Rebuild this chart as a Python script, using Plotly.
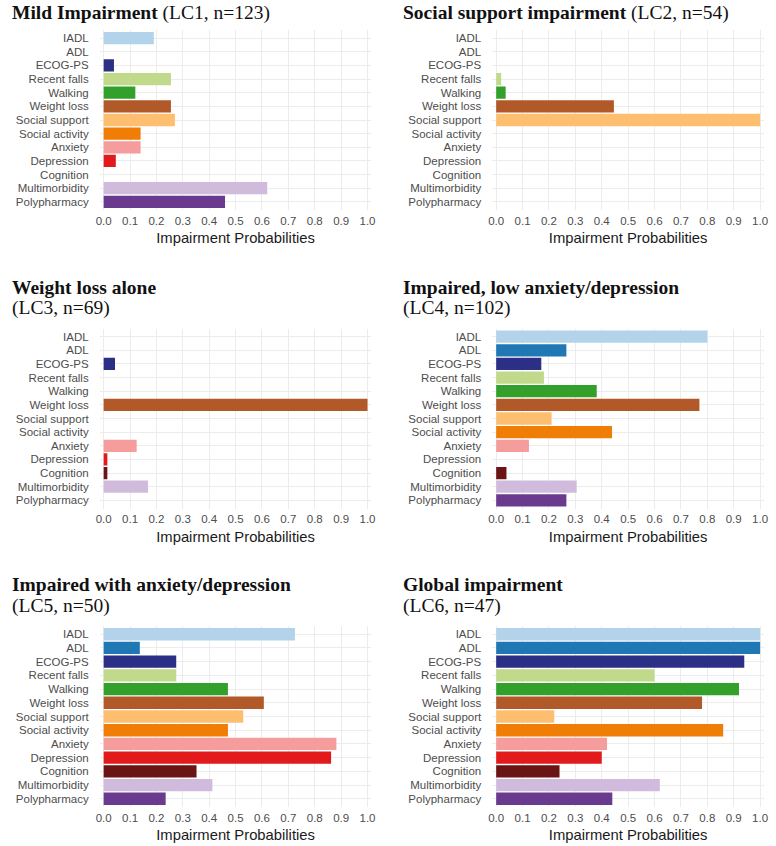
import plotly.graph_objects as go

categories = ["IADL", "ADL", "ECOG-PS", "Recent falls", "Walking", "Weight loss",
              "Social support", "Social activity", "Anxiety", "Depression",
              "Cognition", "Multimorbidity", "Polypharmacy"]

bar_colors = ["#b3d3ea", "#1f78b4", "#2b2f86", "#c1d98a", "#33a02c", "#b15928",
              "#fdbf6f", "#f07d05", "#f59c9c", "#e31a1c", "#6b1414", "#d1bbdc", "#6a3a8f"]

lc1 = [0.19, 0.0, 0.039, 0.255, 0.12, 0.255, 0.27, 0.14, 0.14, 0.046, 0.0, 0.62, 0.46]
lc2 = [0.0, 0.0, 0.0, 0.019, 0.036, 0.446, 1.0, 0.0, 0.0, 0.0, 0.0, 0.0, 0.0]
lc3 = [0.0, 0.0, 0.043, 0.0, 0.0, 1.0, 0.0, 0.0, 0.125, 0.014, 0.014, 0.168, 0.0]
lc4 = [0.80, 0.266, 0.171, 0.181, 0.381, 0.77, 0.21, 0.439, 0.124, 0.0, 0.039, 0.305, 0.266]
lc5 = [0.725, 0.137, 0.275, 0.275, 0.471, 0.607, 0.529, 0.471, 0.882, 0.862, 0.352, 0.412, 0.235]
lc6 = [1.0, 1.0, 0.94, 0.60, 0.92, 0.78, 0.22, 0.86, 0.42, 0.40, 0.24, 0.62, 0.44]

titles_bold = ["Mild Impairment", "Social support impairment", "Weight loss alone",
               "Impaired, low anxiety/depression", "Impaired with anxiety/depression",
               "Global impairment"]
titles_sub = ["(LC1, n=123)", "(LC2, n=54)", "(LC3, n=69)", "(LC4, n=102)",
              "(LC5, n=50)", "(LC6, n=47)"]
series = [lc1, lc2, lc3, lc4, lc5, lc6]

x_ticks = [0.0, 0.1, 0.2, 0.3, 0.4, 0.5, 0.6, 0.7, 0.8, 0.9, 1.0]
x_axis_title = "Impairment Probabilities"

W, H = 776, 846
col_dom = [(96.7 / W, 371.3 / W), (493.3 / W, 768 / W)]
row_px = [(30, 210), (328.5, 508.5), (626, 807)]
row_dom = [(1 - b / H, 1 - t / H) for t, b in row_px]

SANS = "Liberation Sans, Arial, sans-serif"
SERIF = "Liberation Serif, Times New Roman, serif"

fig = go.Figure()
layout = dict(
    width=W, height=H, margin=dict(l=0, r=0, t=0, b=0),
    paper_bgcolor="white", plot_bgcolor="white", showlegend=False,
    bargap=0.1, annotations=[],
)

for i, vals in enumerate(series):
    r, c = divmod(i, 2)
    xa = "x" if i == 0 else f"x{i+1}"
    ya = "y" if i == 0 else f"y{i+1}"
    fig.add_trace(go.Bar(
        x=vals, y=categories, orientation="h", xaxis=xa, yaxis=ya,
        marker=dict(color=bar_colors, line=dict(width=0)),
        hoverinfo="x+y",
    ))
    xkey = "xaxis" if i == 0 else f"xaxis{i+1}"
    ykey = "yaxis" if i == 0 else f"yaxis{i+1}"
    layout[xkey] = dict(
        domain=col_dom[c], anchor=ya, range=[-0.015, 1.015],
        tickmode="array", tickvals=x_ticks, ticktext=[f"{v:.1f}" for v in x_ticks],
        showgrid=True, gridcolor="#ececec", gridwidth=1, zeroline=False,
        showline=False, ticks="", ticklabeloverflow="allow", ticklabelstandoff=2,
        tickfont=dict(family=SANS, size=11.5, color="#4d4d4d"),
        title=dict(text=x_axis_title, font=dict(family=SANS, size=14.8, color="#1a1a1a"), standoff=7),
        fixedrange=True,
    )
    layout[ykey] = dict(
        domain=row_dom[r], anchor=xa, type="category",
        categoryorder="array", categoryarray=categories,
        tickmode="array", tickvals=categories, ticktext=categories,
        range=[12.6, -0.6],
        showgrid=True, gridcolor="#ececec", gridwidth=1, zeroline=False,
        showline=False, ticks="", ticklabelstandoff=10,
        tickfont=dict(family=SANS, size=11.5, color="#4d4d4d"),
        fixedrange=True,
    )
    x_left = 6 / W if c == 0 else 401 / W
    top_px = row_px[r][0]
    if r == 0:
        layout["annotations"].append(dict(
            xref="paper", yref="paper", x=x_left, y=1 - 0 / H, xanchor="left", yanchor="top",
            text=f"<b>{titles_bold[i]}</b> {titles_sub[i]}", showarrow=False,
            font=dict(family=SERIF, size=19.5, color="#111111"),
        ))
    else:
        base = top_px - 54
        layout["annotations"].append(dict(
            xref="paper", yref="paper", x=x_left, y=1 - base / H, xanchor="left", yanchor="top",
            text=f"<b>{titles_bold[i]}</b>", showarrow=False,
            font=dict(family=SERIF, size=19.5, color="#111111"),
        ))
        layout["annotations"].append(dict(
            xref="paper", yref="paper", x=x_left, y=1 - (base + 21) / H, xanchor="left", yanchor="top",
            text=titles_sub[i], showarrow=False,
            font=dict(family=SERIF, size=19.5, color="#111111"),
        ))

fig.update_layout(**layout)
fig.write_html("out.html", config={"displayModeBar": False},
               post_script="document.body.style.margin='0';document.body.style.overflow='hidden';")
